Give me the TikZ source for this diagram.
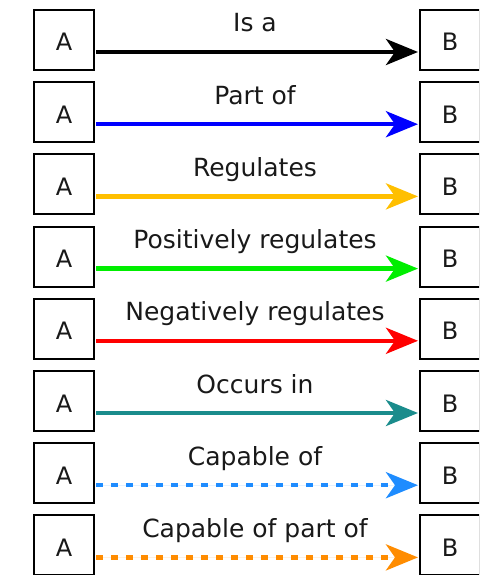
\documentclass[tikz,border=0pt]{standalone}
\usepackage{fontspec}
\setmainfont{DejaVu Sans}
\usetikzlibrary{arrows.meta}
\definecolor{cIsa}{RGB}{0,0,0}
\definecolor{cPart}{RGB}{0,0,255}
\definecolor{cReg}{RGB}{255,191,0}
\definecolor{cPos}{RGB}{0,238,0}
\definecolor{cNeg}{RGB}{255,0,0}
\definecolor{cOcc}{RGB}{26,140,140}
\definecolor{cCap}{RGB}{30,140,255}
\definecolor{cCpo}{RGB}{255,140,0}
\definecolor{txt}{RGB}{25,25,25}
\tikzset{
  termbox/.style={draw=black, line width=2pt, minimum width=60pt, minimum height=60pt,
    inner sep=0pt, text=txt, font=\fontsize{24}{26}\selectfont,
    text height=22pt, text depth=0pt},
  rel/.style={line width=4.5pt, -{Stealth[length=32pt, width=26pt, inset=9pt]}},
  reldot/.style={rel, dash pattern=on 7pt off 8pt},
  rellabel/.style={anchor=base, text=txt, font=\fontsize{25}{28}\selectfont, inner sep=0pt}
}
\begin{document}
\begin{tikzpicture}[x=1pt,y=-1pt]
\useasboundingbox (0,0) rectangle (479,575);
\clip (0,0) rectangle (479,575);
\foreach \i/\lab/\col/\sty in {
  0/Is a/cIsa/rel,
  1/Part of/cPart/rel,
  2/Regulates/cReg/rel,
  3/Positively regulates/cPos/rel,
  4/Negatively regulates/cNeg/rel,
  5/Occurs in/cOcc/rel,
  6/Capable of/cCap/reldot,
  7/Capable of part of/cCpo/reldot}{
  \pgfmathsetmacro{\yc}{40+72.2*\i}
  \node[termbox] (a\i) at (64,\yc) {A};
  \node[termbox] (b\i) at (450,\yc) {B};
  \draw[\sty, draw=\col, fill=\col] ([yshift=-12pt,xshift=1pt]a\i.east) -- ([yshift=-12pt,xshift=-1pt]b\i.west)
    coordinate[pos=0.5] (m\i);
  \node[rellabel] (l\i) at ([yshift=20pt,xshift=-2pt]m\i) {\lab};
}
\end{tikzpicture}
\end{document}
